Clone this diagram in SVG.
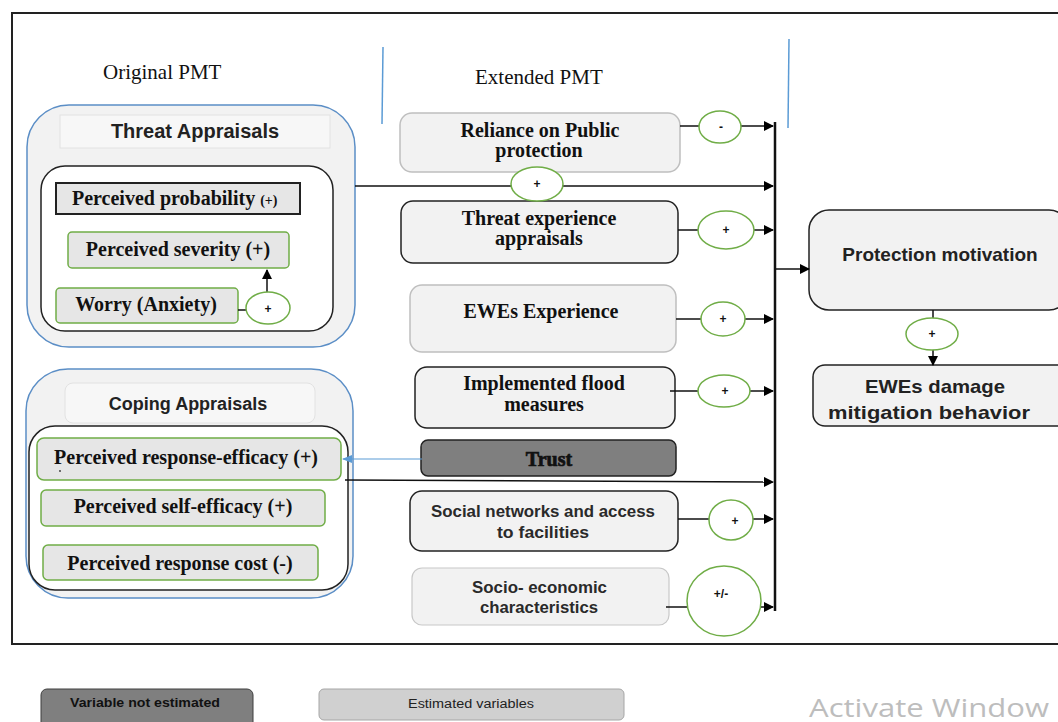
<svg xmlns="http://www.w3.org/2000/svg" width="1058" height="722" viewBox="0 0 1058 722">
  <defs>
    <marker id="arr" viewBox="0 0 10 10" refX="9" refY="5" markerWidth="10" markerHeight="10" markerUnits="userSpaceOnUse" orient="auto">
      <path d="M0,0 L10,5 L0,10 z" fill="#000"/>
    </marker>
    <marker id="arrBlue" viewBox="0 0 10 10" refX="9" refY="5" markerWidth="10" markerHeight="10" markerUnits="userSpaceOnUse" orient="auto">
      <path d="M0,1 L10,5 L0,9 z" fill="#5b9bd5"/>
    </marker>
    <clipPath id="clipBehavior">
      <rect x="813" y="365" width="256" height="61" rx="12"/>
    </clipPath>
    <style>
      .serif { font-family: "Liberation Serif", "Times New Roman", serif; font-weight: bold; fill: #111; font-size: 20px; }
      .sans { font-family: "Liberation Sans", Arial, sans-serif; font-weight: bold; fill: #222; }
      .sansMed { font-family: "Liberation Sans", Arial, sans-serif; font-weight: bold; fill: #2a2a2a; font-size: 16px; }
      .group { fill: #f2f2f2; stroke: #5b8ec6; stroke-width: 1.5; }
      .title { fill: #f7f7f7; stroke: #e2e2e2; stroke-width: 1; }
      .inner { fill: #fff; stroke: #222; stroke-width: 1.5; }
      .var { fill: #e6e6e6; stroke: #70ad47; stroke-width: 1.5; }
      .ext { fill: #f2f2f2; stroke: #222; stroke-width: 1.5; }
      .extLight { fill: #f2f2f2; stroke: #bfbfbf; stroke-width: 1.5; }
      .sign { fill: #fff; stroke: #70ad47; stroke-width: 1.5; }
      .signTxt { font-family: "Liberation Sans", Arial, sans-serif; font-size: 12px; font-weight: bold; fill: #111; text-anchor: middle; }
      .edge { stroke: #111; stroke-width: 1.5; fill: none; }
    </style>
  </defs>

  <rect width="1058" height="722" fill="#fff"/>

  <!-- frame -->
  <g id="frame" stroke="#222" stroke-width="2" fill="none">
    <polyline points="1058,13 12,13 12,644 1058,644"/>
  </g>

  <!-- section headings and dividers -->
  <g id="headings">
    <text x="103" y="79" font-family="'Liberation Serif', serif" font-size="21" fill="#111">Original PMT</text>
    <text x="475" y="84" font-family="'Liberation Serif', serif" font-size="21" fill="#111">Extended PMT</text>
    <line x1="383" y1="47" x2="382" y2="124" stroke="#5b9bd5" stroke-width="1.5"/>
    <line x1="789" y1="39" x2="788" y2="128" stroke="#5b9bd5" stroke-width="1.5"/>
  </g>

  <!-- threat appraisals -->
  <g id="threat-appraisals">
    <rect class="group" x="27" y="105" width="328" height="242" rx="42"/>
    <rect class="title" x="60" y="115" width="270" height="33"/>
    <text class="sans" x="195" y="138" font-size="20" text-anchor="middle">Threat Appraisals</text>
    <rect class="inner" x="41" y="166" width="292" height="165" rx="24"/>
  </g>
  <g id="perceived-probability">
    <rect x="56" y="183" width="244" height="31" fill="#e6e6e6" stroke="#222" stroke-width="2"/>
    <text class="serif" x="72" y="205">Perceived probability <tspan font-size="14">(+)</tspan></text>
  </g>
  <g id="perceived-severity">
    <rect class="var" x="68" y="232" width="221" height="36" rx="4"/>
    <text class="serif" x="178" y="256" text-anchor="middle">Perceived severity (+)</text>
  </g>
  <g id="worry">
    <rect class="var" x="56" y="288" width="182" height="35" rx="4"/>
    <text class="serif" x="146" y="311" text-anchor="middle">Worry (Anxiety)</text>
  </g>

  <!-- coping appraisals -->
  <g id="coping-appraisals">
    <rect class="group" x="26" y="369" width="327" height="229" rx="42"/>
    <rect class="title" x="65" y="383" width="250" height="40" rx="8"/>
    <text class="sans" x="188" y="410" font-size="18" text-anchor="middle">Coping Appraisals</text>
    <rect class="inner" x="29" y="426" width="319" height="164" rx="26"/>
  </g>
  <g id="response-efficacy">
    <rect class="var" x="37" y="438" width="304" height="42" rx="7"/>
    <text class="serif" x="186" y="464" text-anchor="middle">Perceived response-efficacy (+)</text>
    <circle cx="60" cy="471" r="0.9" fill="#333"/>
  </g>
  <g id="self-efficacy">
    <rect class="var" x="41" y="490" width="284" height="36" rx="5"/>
    <text class="serif" x="183" y="513" text-anchor="middle">Perceived self-efficacy (+)</text>
  </g>
  <g id="response-cost">
    <rect class="var" x="43" y="545" width="275" height="35" rx="5"/>
    <text class="serif" x="180" y="570" text-anchor="middle">Perceived response cost (-)</text>
  </g>

  <!-- extended PMT variables -->
  <g id="reliance-public-protection">
    <rect class="extLight" x="400" y="113" width="280" height="59" rx="12"/>
    <text class="serif" x="540" y="137" text-anchor="middle">Reliance on Public</text>
    <text class="serif" x="539" y="157" text-anchor="middle">protection</text>
  </g>
  <g id="threat-experience">
    <rect class="ext" x="401" y="201" width="277" height="62" rx="12"/>
    <text class="serif" x="539" y="225" text-anchor="middle">Threat experience</text>
    <text class="serif" x="539" y="245" text-anchor="middle">appraisals</text>
  </g>
  <g id="ewes-experience">
    <rect class="extLight" x="410" y="285" width="266" height="67" rx="12"/>
    <text class="serif" x="541" y="318" text-anchor="middle">EWEs Experience</text>
  </g>
  <g id="flood-measures">
    <rect class="ext" x="415" y="367" width="260" height="61" rx="12"/>
    <text class="serif" x="544" y="390" text-anchor="middle">Implemented flood</text>
    <text class="serif" x="544" y="411" text-anchor="middle">measures</text>
  </g>
  <g id="trust">
    <rect x="421" y="440" width="255" height="36" rx="7" fill="#7f7f7f" stroke="#222" stroke-width="1.5"/>
    <text class="serif" x="549" y="466" font-size="21" text-anchor="middle" fill="#444" stroke="#111" stroke-width="0.7">Trust</text>
  </g>
  <g id="social-networks">
    <rect class="ext" x="410" y="491" width="268" height="60" rx="12"/>
    <text class="sansMed" x="431" y="517" textLength="224" lengthAdjust="spacingAndGlyphs">Social networks and access</text>
    <text class="sansMed" x="497" y="538" textLength="92" lengthAdjust="spacingAndGlyphs">to facilities</text>
  </g>
  <g id="socio-economic">
    <rect x="412" y="568" width="257" height="57" rx="10" fill="#f2f2f2" stroke="#c8c8c8" stroke-width="1.2"/>
    <text class="sansMed" x="472" y="593" textLength="135" lengthAdjust="spacingAndGlyphs">Socio- economic</text>
    <text class="sansMed" x="480" y="613" textLength="118" lengthAdjust="spacingAndGlyphs">characteristics</text>
  </g>

  <!-- outcomes -->
  <g id="protection-motivation">
    <rect class="ext" x="809" y="210" width="260" height="100" rx="20"/>
    <text class="sans" x="940" y="261" font-size="19" text-anchor="middle">Protection motivation</text>
  </g>
  <g id="damage-mitigation">
    <rect class="ext" x="813" y="365" width="256" height="61" rx="12"/>
    <g clip-path="url(#clipBehavior)">
      <text class="sans" x="865" y="393" font-size="19" textLength="140" lengthAdjust="spacingAndGlyphs">EWEs damage</text>
      <text class="sans" x="828" y="419" font-size="19" textLength="202" lengthAdjust="spacingAndGlyphs">mitigation behavior</text>
    </g>
  </g>

  <!-- connectors with sign labels -->
  <g id="connectors">
    <!-- worry to severity -->
    <line class="edge" x1="238" y1="310" x2="246" y2="310"/>
    <line class="edge" x1="267" y1="292" x2="267" y2="270" marker-end="url(#arr)"/>
    <ellipse class="sign" cx="268" cy="308" rx="22" ry="16"/>
    <text class="signTxt" x="268" y="313" font-size="10" font-weight="normal">+</text>

    <!-- threat appraisals to bus -->
    <line class="edge" x1="355" y1="186" x2="773" y2="186" marker-end="url(#arr)"/>
    <ellipse class="sign" cx="537" cy="184" rx="26" ry="17"/>
    <text class="signTxt" x="537" y="188">+</text>

    <!-- reliance -->
    <line class="edge" x1="680" y1="126" x2="773" y2="126" marker-end="url(#arr)"/>
    <ellipse class="sign" cx="720" cy="127" rx="21" ry="16"/>
    <text class="signTxt" x="721" y="131" font-weight="normal" fill="#666">-</text>

    <!-- threat experience -->
    <line class="edge" x1="678" y1="230" x2="773" y2="230" marker-end="url(#arr)"/>
    <ellipse class="sign" cx="726" cy="230" rx="28" ry="19"/>
    <text class="signTxt" x="726" y="234">+</text>

    <!-- EWEs experience -->
    <line class="edge" x1="676" y1="319" x2="773" y2="319" marker-end="url(#arr)"/>
    <ellipse class="sign" cx="723" cy="319" rx="22" ry="17"/>
    <text class="signTxt" x="723" y="323">+</text>

    <!-- flood measures -->
    <line class="edge" x1="670" y1="391" x2="773" y2="391" marker-end="url(#arr)"/>
    <ellipse class="sign" cx="724" cy="391" rx="26" ry="16"/>
    <text class="signTxt" x="725" y="395">+</text>

    <!-- trust to response efficacy -->
    <line x1="422" y1="459" x2="343" y2="459" stroke="#5b9bd5" stroke-width="1.2" marker-end="url(#arrBlue)"/>

    <!-- coping appraisals to bus -->
    <line class="edge" x1="345" y1="480" x2="773" y2="482" marker-end="url(#arr)"/>

    <!-- social networks -->
    <line class="edge" x1="678" y1="519" x2="773" y2="519" marker-end="url(#arr)"/>
    <ellipse class="sign" cx="731" cy="520" rx="22" ry="20"/>
    <text class="signTxt" x="735" y="525">+</text>

    <!-- socio-economic -->
    <line class="edge" x1="666" y1="607" x2="773" y2="607" marker-end="url(#arr)"/>
    <ellipse class="sign" cx="724" cy="601" rx="37" ry="35"/>
    <text class="signTxt" x="721" y="598">+/-</text>

    <!-- collecting bus -->
    <line x1="775" y1="122" x2="775" y2="611" stroke="#111" stroke-width="2.5"/>
    <line class="edge" x1="775" y1="269" x2="809" y2="269" marker-end="url(#arr)"/>

    <!-- protection motivation to behaviour -->
    <line class="edge" x1="933" y1="310" x2="933" y2="365" marker-end="url(#arr)"/>
    <ellipse class="sign" cx="932" cy="334" rx="26" ry="16"/>
    <text class="signTxt" x="932" y="338">+</text>
  </g>

  <!-- legend -->
  <g id="legend">
    <rect x="41" y="689" width="212" height="40" rx="6" fill="#7f7f7f" stroke="#3f3f3f" stroke-width="1"/>
    <text x="70" y="707" font-family="'Liberation Sans', sans-serif" font-weight="bold" font-size="12" fill="#111" textLength="150" lengthAdjust="spacingAndGlyphs">Variable not estimated</text>
    <rect x="319" y="689" width="305" height="31" rx="5" fill="#d0d0d0" stroke="#a6a6a6" stroke-width="1"/>
    <text x="408" y="708" font-family="'Liberation Sans', sans-serif" font-size="12" fill="#222" textLength="126" lengthAdjust="spacingAndGlyphs">Estimated variables</text>
  </g>

  <text x="809" y="717" font-family="'Open Sans', 'Noto Sans', sans-serif" font-size="25" fill="#bdbdbd" textLength="240" lengthAdjust="spacingAndGlyphs">Activate Window</text>
</svg>
